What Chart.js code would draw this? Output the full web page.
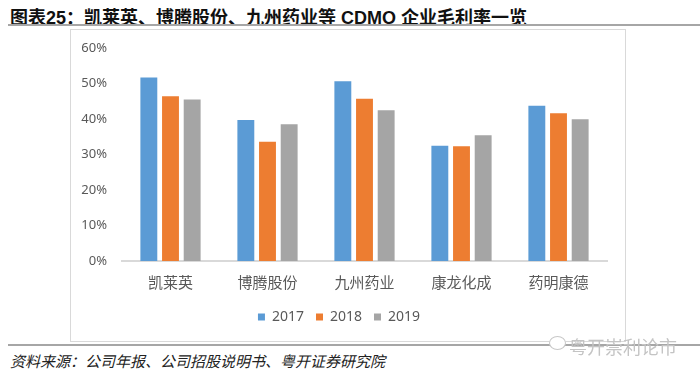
<!DOCTYPE html>
<html>
<head>
<meta charset="utf-8">
<script src="https://cdn.jsdelivr.net/npm/chart.js@4"></script>
<style>
  html, body { margin: 0; padding: 0; background: #fff; }
  body { width: 700px; height: 376px; position: relative; overflow: hidden;
         font-family: "Liberation Sans", "Noto Sans CJK SC", sans-serif; }
  .title { position: absolute; left: 10px; top: 3px; font-size: 18px; font-weight: bold; color: #111; white-space: nowrap; }
  .rule { position: absolute; left: 8px; width: 692px; height: 2px; background: #a6a6a6; }
  .frame { position: absolute; left: 70px; top: 29px; width: 554px; height: 311px; border: 1px solid #d9d9d9; }
  .source { position: absolute; left: 10px; top: 350px; font-size: 15px; font-style: italic; color: #222;
            font-family: "Noto Sans CJK SC", sans-serif; white-space: nowrap; }
  .mark { position: absolute; left: 569px; top: 333px; font-size: 18px; color: #c4c4c4;
          font-family: "Noto Sans CJK SC", sans-serif; white-space: nowrap; }
  .icon { position: absolute; left: 549px; top: 336px; width: 15px; height: 12px; border: 1px solid #c8c8c8; border-radius: 50%; background: #fff; }
</style>
</head>
<body>
<div class="title">图表25：凯莱英、博腾股份、九州药业等 CDMO 企业毛利率一览</div>
<div class="rule" style="top:24px"></div>
<div class="frame"><canvas id="gm-chart" width="554" height="311"></canvas></div>
<div class="rule" style="top:344px"></div>
<div class="icon"></div>
<div class="mark">粤开崇利论市</div>
<div class="source">资料来源：公司年报、公司招股说明书、粤开证券研究院</div>

<script>
// 毛利率 (%)
var companies = ["凯莱英", "博腾股份", "九州药业", "康龙化成", "药明康德"];
var years = ["2017", "2018", "2019"];
var gm2017 = [51.7, 39.7, 50.6, 32.5, 43.7];
var gm2018 = [46.4, 33.6, 45.7, 32.3, 41.6];
var gm2019 = [45.5, 38.5, 42.5, 35.4, 39.9];
var yTicks = [0, 10, 20, 30, 40, 50, 60];

var colors = ["#5B9BD5", "#ED7D31", "#A5A5A5"];
var series = [gm2017, gm2018, gm2019];

var config = {
  type: "bar",
  data: {
    labels: companies,
    datasets: years.map(function (y, i) {
      return {
        label: y,
        data: series[i],
        backgroundColor: colors[i],
        borderWidth: 0,
        categoryPercentage: 0.67,
        barPercentage: 0.78,
      };
    }),
  },
  options: {
    responsive: false,
    animation: false,
    layout: { padding: { top: 18, right: 18, bottom: 7, left: 0 } },
    plugins: {
      tooltip: { enabled: false },
      legend: {
        position: "bottom",
        labels: {
          boxWidth: 7,
          boxHeight: 7,
          padding: 12,
          color: "#595959",
          font: { size: 14, family: "'Noto Sans', 'Noto Sans CJK SC', sans-serif" },
        },
      },
    },
    scales: {
      x: {
        grid: { display: false, drawTicks: false },
        border: { color: "#d9d9d9", width: 2 },
        ticks: {
          padding: 12,
          color: "#595959",
          font: { size: 15, family: "'Noto Sans CJK SC', sans-serif" },
        },
        afterFit: function (scale) { scale.height = 37; },
      },
      y: {
        min: 0,
        max: 60,
        grid: { display: false, drawTicks: false },
        border: { display: false },
        afterBuildTicks: function (scale) {
          scale.ticks = yTicks.map(function (v) { return { value: v }; });
        },
        ticks: {
          padding: 15,
          color: "#595959",
          font: { size: 13, family: "'Noto Sans', sans-serif" },
          callback: function (v) { return v + "%"; },
        },
        afterFit: function (scale) {
          scale.width = 51;
          // keep the tick padding from pushing the plot area down
          scale.paddingTop = 0;
          scale.paddingBottom = 0;
        },
      },
    },
  },
};

var ctx = document.getElementById("gm-chart").getContext("2d");
window.gmChart = new Chart(ctx, config);
</script>
</body>
</html>
